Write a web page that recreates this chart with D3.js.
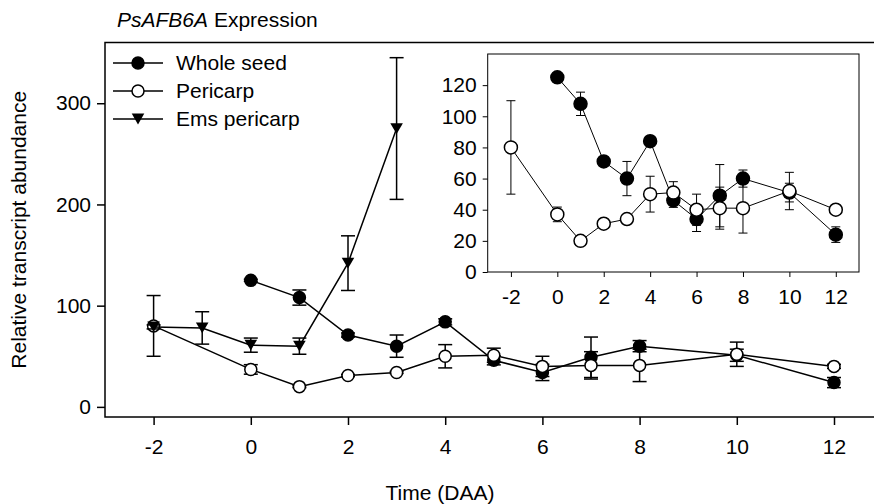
<!DOCTYPE html>
<html lang="en">
<head>
    <meta charset="UTF-8">
    <title>PsAFB6A Expression</title>
    <script src="https://d3js.org/d3.v7.min.js"></script>
    <style>
        body { margin: 0; background: #fff; }
        text { font-family: "Liberation Sans", Arial, sans-serif; fill: #000; }
    </style>
</head>
<body>
    <div id="chart"></div>
    <script>
        // Data (days after anthesis)
        const wsDays = [0, 1, 2, 3, 4, 5, 6, 7, 8, 10, 12];
        const wsMean = [125, 108, 71, 60, 84, 46, 34, 49, 60, 51, 24];
        const wsErr  = [1, 7.5, 2, 11, 3, 4.5, 8, 20, 5.5, 6, 5];

        const perDays = [-2, 0, 1, 2, 3, 4, 5, 6, 7, 8, 10, 12];
        const perMean = [80, 37, 20, 31, 34, 50, 51, 40, 41, 41, 52, 40];
        const perErr  = [30, 4.7, 1, 1, 1, 11.5, 7, 10, 13.5, 16, 12, 2];

        const emsDays = [-2, -1, 0, 1, 2, 3];
        const emsMean = [79, 78, 61, 60, 142, 275];
        const emsErr  = [2, 16, 7, 8, 27, 70];

        const xTicks = [-2, 0, 2, 4, 6, 8, 10, 12];
        const mainYTicks = [0, 100, 200, 300];
        const insetYTicks = [0, 20, 40, 60, 80, 100, 120];

        const width = 874;
        const height = 504;
        const fontSize = 21;

        const svg = d3.select("#chart")
            .append("svg")
            .attr("width", width)
            .attr("height", height);

        const zip = (days, mean, err) => days.map((d, i) => ({x: d, y: mean[i], e: err[i]}));
        const wsData = zip(wsDays, wsMean, wsErr);
        const perData = zip(perDays, perMean, perErr);
        const emsData = zip(emsDays, emsMean, emsErr);

        // plain hyphen for negatives, like the original figure
        const fmt = d => String(d);

        // marker drawing helpers
        function drawMarker(g, type, x, y, r) {
            if (type === "tri") {
                const h = r * 1.8;
                g.append("path")
                    .attr("d", `M${x - r * 1.05},${y - h / 2}L${x + r * 1.05},${y - h / 2}L${x},${y + h / 2}Z`)
                    .attr("fill", "#000");
            } else {
                g.append("circle")
                    .attr("cx", x).attr("cy", y).attr("r", r)
                    .attr("fill", type === "filled" ? "#000" : "#fff")
                    .attr("stroke", "#000")
                    .attr("stroke-width", 1.5);
            }
        }

        function drawSeries(g, data, x, y, type, opts) {
            // error bars
            data.forEach(d => {
                const eb = g.append("g").attr("stroke", "#000").attr("stroke-width", opts.ebWidth);
                eb.append("line").attr("x1", x(d.x)).attr("x2", x(d.x))
                    .attr("y1", y(d.y - d.e)).attr("y2", y(d.y + d.e));
                [d.y - d.e, d.y + d.e].forEach(v => {
                    eb.append("line")
                        .attr("x1", x(d.x) - opts.cap).attr("x2", x(d.x) + opts.cap)
                        .attr("y1", y(v)).attr("y2", y(v));
                });
            });
            // connecting line
            g.append("path")
                .datum(data)
                .attr("fill", "none")
                .attr("stroke", "#000")
                .attr("stroke-width", opts.lineWidth)
                .attr("d", d3.line().x(d => x(d.x)).y(d => y(d.y)));
            data.forEach(d => drawMarker(g, type, x(d.x), y(d.y), opts.r));
        }

        // ---------- main plot ----------
        const x = d3.scaleLinear().domain([-3, 13]).range([105, 882.6]);
        const y = d3.scaleLinear().domain([-10, 360]).range([417, 42.5]);

        const main = svg.append("g");

        main.append("rect")
            .attr("x", x(-3)).attr("y", y(360))
            .attr("width", x(13) - x(-3)).attr("height", y(-10) - y(360))
            .attr("fill", "none")
            .attr("stroke", "#000")
            .attr("stroke-width", 1.5);

        const xAxis = main.append("g")
            .attr("transform", `translate(0,${y(-10)})`)
            .call(d3.axisBottom(x).tickValues(xTicks).tickFormat(fmt).tickSize(8).tickPadding(14));
        const yAxis = main.append("g")
            .attr("transform", `translate(${x(-3)},0)`)
            .call(d3.axisLeft(y).tickValues(mainYTicks).tickFormat(fmt).tickSize(8).tickPadding(6));

        [xAxis, yAxis].forEach(a => {
            a.select(".domain").remove();
            a.selectAll("line").attr("stroke", "#000").attr("stroke-width", 1.5);
            a.selectAll("text").style("font-size", fontSize + "px")
                .style("font-family", '"Liberation Sans", Arial, sans-serif');
        });

        const mainOpts = {r: 6, cap: 7, lineWidth: 1.5, ebWidth: 1.5};
        drawSeries(main, wsData, x, y, "filled", mainOpts);
        drawSeries(main, perData, x, y, "open", mainOpts);
        drawSeries(main, emsData, x, y, "tri", mainOpts);

        // legend
        const legendItems = [
            {label: "Whole seed", type: "filled"},
            {label: "Pericarp", type: "open"},
            {label: "Ems pericarp", type: "tri"}
        ];
        legendItems.forEach((item, i) => {
            const ly = 63 + i * 28;
            const lg = svg.append("g");
            lg.append("line")
                .attr("x1", 113).attr("x2", 163)
                .attr("y1", ly).attr("y2", ly)
                .attr("stroke", "#000").attr("stroke-width", 1.5);
            drawMarker(lg, item.type, 138, ly, 6);
            lg.append("text")
                .attr("x", 176).attr("y", ly)
                .attr("dy", "0.35em")
                .style("font-size", fontSize + "px")
                .text(item.label);
        });

        // ---------- inset ----------
        const ix = d3.scaleLinear().domain([-3, 13]).range([487.7, 859]);
        const iy = d3.scaleLinear().domain([0, 140]).range([272, 54]);

        const inset = svg.append("g");
        inset.append("rect")
            .attr("x", ix(-3)).attr("y", iy(140))
            .attr("width", ix(13) - ix(-3)).attr("height", iy(0) - iy(140))
            .attr("fill", "#fff")
            .attr("stroke", "#000")
            .attr("stroke-width", 1);

        const ixAxis = inset.append("g")
            .attr("transform", `translate(0,${iy(0)})`)
            .call(d3.axisBottom(ix).tickValues(xTicks).tickFormat(fmt).tickSize(5).tickPadding(12));
        const iyAxis = inset.append("g")
            .attr("transform", `translate(${ix(-3)},0)`)
            .call(d3.axisLeft(iy).tickValues(insetYTicks).tickFormat(fmt).tickSize(5).tickPadding(6));

        [ixAxis, iyAxis].forEach(a => {
            a.select(".domain").remove();
            a.selectAll("line").attr("stroke", "#000").attr("stroke-width", 1);
            a.selectAll("text").style("font-size", fontSize + "px")
                .style("font-family", '"Liberation Sans", Arial, sans-serif');
        });

        const insetOpts = {r: 6.5, cap: 4.5, lineWidth: 1, ebWidth: 1};
        drawSeries(inset, wsData, ix, iy, "filled", insetOpts);
        drawSeries(inset, perData, ix, iy, "open", insetOpts);

        // ---------- titles ----------
        const title = svg.append("text")
            .attr("x", 117).attr("y", 27)
            .style("font-size", fontSize + "px");
        title.append("tspan").style("font-style", "italic").text("PsAFB6A");
        title.append("tspan").text(" Expression");

        svg.append("text")
            .attr("transform", `translate(26,${(y(-10) + y(360)) / 2}) rotate(-90)`)
            .attr("text-anchor", "middle")
            .style("font-size", fontSize + "px")
            .text("Relative transcript abundance");

        svg.append("text")
            .attr("x", 440).attr("y", 500)
            .attr("text-anchor", "middle")
            .style("font-size", fontSize + "px")
            .text("Time (DAA)");
    </script>
</body>
</html>
